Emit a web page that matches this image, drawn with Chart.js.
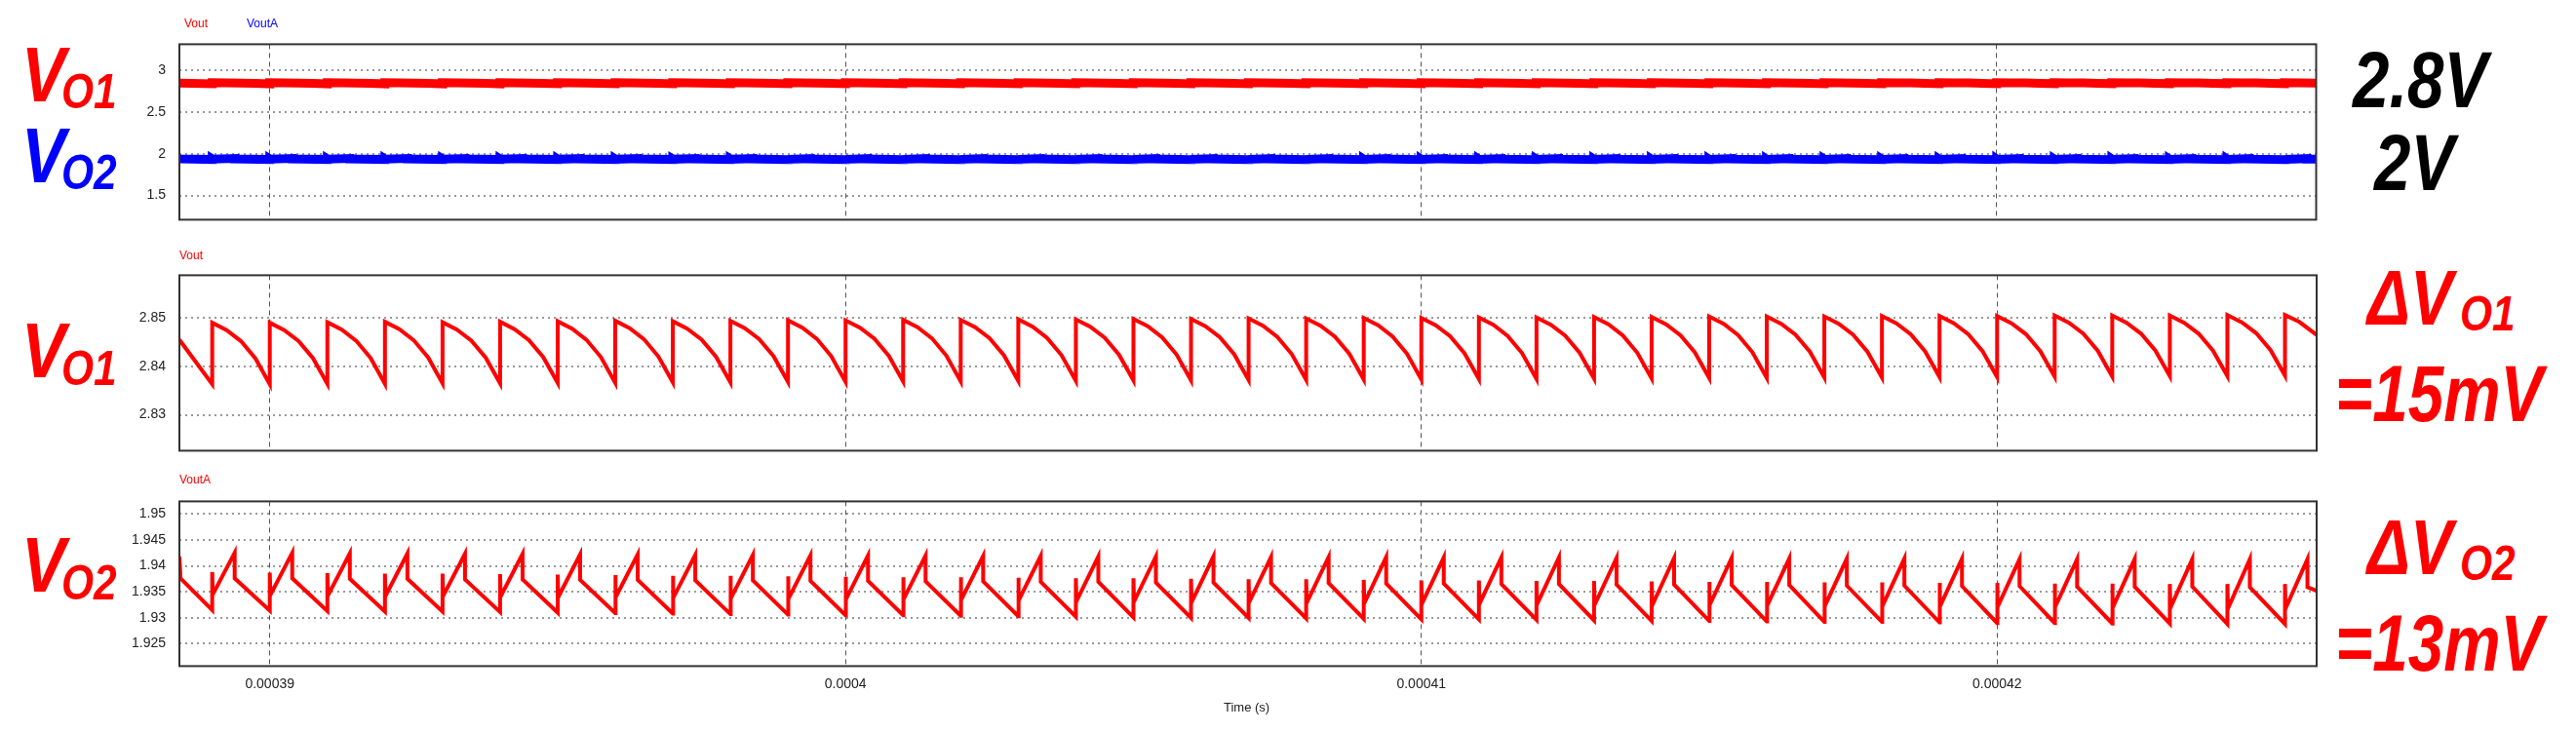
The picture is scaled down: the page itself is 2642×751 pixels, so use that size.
<!DOCTYPE html>
<html><head><meta charset="utf-8">
<script src="https://cdn.jsdelivr.net/npm/chart.js@4.4.1/dist/chart.umd.min.js"></script>
<style>
html,body{margin:0;padding:0;background:#fff;width:2642px;height:751px;overflow:hidden;position:relative;font-family:"Liberation Sans",Arial,sans-serif}
.cv{position:absolute}
.t{position:absolute;white-space:nowrap;font-weight:bold;font-style:italic;transform-origin:left center}
.s{position:absolute;white-space:nowrap;font-size:12px}
</style></head><body>
<div class="cv" id="w1" style="left:80px;top:44px;width:2300px;height:182px"><canvas id="c1"></canvas></div>
<div class="cv" id="w2" style="left:80px;top:282px;width:2300px;height:181px"><canvas id="c2"></canvas></div>
<div class="cv" id="w3" style="left:80px;top:514px;width:2300px;height:200px"><canvas id="c3"></canvas></div>
<script>
// ---- data (time in microseconds) ----
const jumpTimesUs = [389,390,391,392,393,394,395,396,397,398,399,400,401,402,403,404,405,406,407,408,409,410,411,412,413,414,415,416,417,418,419,420,421,422,423,424,425];
const timeStartUs = 388.43, timeEndUs = 425.55;
const xTickValuesUs = [390,400,410,420];
const xTickLabels = ["0.00039","0.0004","0.00041","0.00042"];

const vo1Peak = [2.8490,2.8490,2.8491,2.8492,2.8491,2.8492,2.8493,2.8494,2.8493,2.8494,2.8495,2.8495,2.8496,2.8496,2.8497,2.8497,2.8498,2.8498,2.8499,2.8499,2.8500,2.8500,2.8501,2.8501,2.8502,2.8502,2.8503,2.8503,2.8503,2.8504,2.8504,2.8504,2.8505,2.8505,2.8505,2.8506,2.8506];
const vo1Trough = [2.8363,2.8363,2.8364,2.8364,2.8365,2.8365,2.8366,2.8366,2.8367,2.8367,2.8368,2.8368,2.8369,2.8369,2.8370,2.8370,2.8371,2.8371,2.8372,2.8372,2.8373,2.8373,2.8374,2.8374,2.8375,2.8375,2.8376,2.8376,2.8377,2.8377,2.8378,2.8378,2.8379,2.8379,2.8380,2.8380,2.8381];
const vo1StartValue = 2.8455, vo1EndValue = 2.8465;
const vo1DecayFrac = [0.25,0.5,0.75];
const vo1DecayDrop = [0.12,0.3,0.58];

const vo2Trough = [1.9315,1.9314,1.9313,1.9312,1.9312,1.9311,1.9310,1.9309,1.9308,1.9307,1.9306,1.9305,1.9305,1.9304,1.9303,1.9302,1.9301,1.9300,1.9300,1.9299,1.9298,1.9297,1.9297,1.9296,1.9295,1.9294,1.9294,1.9293,1.9292,1.9292,1.9291,1.9290,1.9290,1.9289,1.9289,1.9288,1.9288];
const vo2SpikeTop = [1.9388,1.9387,1.9386,1.9385,1.9385,1.9384,1.9383,1.9382,1.9381,1.9381,1.9380,1.9379,1.9378,1.9378,1.9377,1.9376,1.9376,1.9375,1.9374,1.9374,1.9373,1.9372,1.9372,1.9371,1.9371,1.9370,1.9369,1.9369,1.9368,1.9368,1.9367,1.9367,1.9366,1.9366,1.9365,1.9365,1.9365];
const vo2Base = [1.9345,1.9344,1.9343,1.9342,1.9342,1.9341,1.9340,1.9339,1.9338,1.9337,1.9336,1.9335,1.9335,1.9334,1.9333,1.9332,1.9331,1.9330,1.9330,1.9329,1.9328,1.9327,1.9327,1.9326,1.9325,1.9324,1.9324,1.9323,1.9322,1.9322,1.9321,1.9320,1.9320,1.9319,1.9319,1.9318,1.9318];
const vo2Peak = [1.9425,1.9425,1.9424,1.9424,1.9423,1.9423,1.9422,1.9422,1.9421,1.9421,1.9420,1.9420,1.9420,1.9419,1.9419,1.9418,1.9418,1.9418,1.9417,1.9417,1.9417,1.9416,1.9416,1.9416,1.9415,1.9415,1.9415,1.9414,1.9414,1.9414,1.9414,1.9413,1.9413,1.9413,1.9413,1.9413,1.9413];
const vo2Drop = [1.9376,1.9376,1.9375,1.9375,1.9374,1.9374,1.9373,1.9373,1.9372,1.9372,1.9371,1.9371,1.9370,1.9370,1.9369,1.9369,1.9368,1.9368,1.9367,1.9367,1.9366,1.9366,1.9365,1.9365,1.9364,1.9364,1.9363,1.9363,1.9362,1.9362,1.9361,1.9361,1.9360,1.9360,1.9360,1.9359,1.9359];
const vo2StartPeak = 1.9418, vo2StartDrop = 1.9376, vo2EndValue = 1.9352;
const vo2RiseUs = 0.39;

const topTicks = [1.5,2,2.5,3];
const midTicks = [2.83,2.84,2.85];
const botTicks = [1.925,1.93,1.935,1.94,1.945,1.95];

// ---- build waveforms ----
function buildVo1(){
  const p=[{x:timeStartUs,y:vo1StartValue}];
  for(let i=0;i<jumpTimesUs.length;i++){
    const t0=jumpTimesUs[i];
    p.push({x:t0,y:vo1Trough[i]});
    p.push({x:t0,y:vo1Peak[i]});
    if(i<jumpTimesUs.length-1){
      const next=vo1Trough[i+1];
      vo1DecayFrac.forEach((f,k)=>p.push({x:t0+f,y:vo1Peak[i]-(vo1Peak[i]-next)*vo1DecayDrop[k]}));
    } else {
      p.push({x:t0+0.25,y:vo1Peak[i]-(vo1Peak[i]-vo1EndValue)*0.35});
      p.push({x:timeEndUs,y:vo1EndValue});
    }
  }
  return p;
}
function buildVo2(){
  const p=[{x:timeStartUs,y:vo2StartPeak},{x:timeStartUs+0.02,y:vo2StartDrop}];
  for(let i=0;i<jumpTimesUs.length;i++){
    const t0=jumpTimesUs[i];
    p.push({x:t0,y:vo2Trough[i]});
    p.push({x:t0,y:vo2SpikeTop[i]});
    p.push({x:t0+0.01,y:vo2Base[i]});
    p.push({x:t0+vo2RiseUs,y:vo2Peak[i]});
    p.push({x:t0+vo2RiseUs,y:vo2Drop[i]});
    if(i===jumpTimesUs.length-1) p.push({x:timeEndUs,y:vo2EndValue});
  }
  return p;
}
const d1=buildVo1(), d2=buildVo2();

const frame={id:'frame',afterDraw(c){const a=c.chartArea,x=c.ctx;x.save();x.strokeStyle='#333';x.lineWidth=2;x.strokeRect(a.left,a.top,a.right-a.left,a.bottom-a.top);x.restore();}};

function mk(id,wid,datasets,yMin,yMax,yTicks,showX,areaTop,areaBottom){
  const ch=new Chart(document.getElementById(id),{
    type:'line',
    data:{datasets},
    options:{
      responsive:true,maintainAspectRatio:false,animation:false,
      layout:{padding:{left:0,right:4,top:0,bottom:0}},
      plugins:{legend:{display:false},tooltip:{enabled:false}},
      elements:{point:{radius:0},line:{tension:0}},
      scales:{
        x:{type:'linear',min:timeStartUs,max:timeEndUs,
          afterBuildTicks:s=>{s.ticks=xTickValuesUs.map(v=>({value:v}));},
          afterFit:s=>{s.height=showX?36:0;},
          grid:{color:'#555',lineWidth:1,drawTicks:false},
          border:{display:false,dash:[5,4]},
          ticks:{display:showX,padding:10,color:'#222',font:{family:'Liberation Sans',size:14},
            callback:(v)=>{const i=xTickValuesUs.indexOf(v);return i>=0?xTickLabels[i]:'';}}
        },
        y:{min:yMin,max:yMax,
          afterBuildTicks:s=>{s.ticks=yTicks.map(v=>({value:v}));},
          afterFit:s=>{s.width=104;},
          grid:{color:'#999',lineWidth:2,drawTicks:false},
          border:{display:false,dash:[2,4]},
          ticks:{padding:14,color:'#222',font:{family:'Liberation Sans',size:14},callback:v=>String(v)}
        }
      }
    },
    plugins:[frame]
  });
  // align plot area to the target box
  const w=document.getElementById(wid);
  const a=ch.chartArea, dt=a.top, db=ch.height-a.bottom;
  w.style.top=(areaTop-dt)+'px';
  w.style.height=(areaBottom-areaTop+dt+db)+'px';
  ch.resize();
  return ch;
}
mk('c1','w1',[
  {data:d1,borderColor:'#ff0000',borderWidth:9,parsing:false},
  {data:d2,borderColor:'#0000ff',borderWidth:9,parsing:false}
],1.21,3.31,topTicks,false,45,225);
mk('c2','w2',[{data:d1,borderColor:'#ff0000',borderWidth:4,parsing:false}],2.8226,2.8588,midTicks,false,282,462);
mk('c3','w3',[{data:d2,borderColor:'#ff0000',borderWidth:4,parsing:false}],1.9207,1.9524,botTicks,true,514,683);

// ---- text labels ----
function place(txt,x,baseline,size,color,sx,cls){
  const d=document.createElement('div');d.className=cls||'t';d.textContent=txt;
  d.style.left=x+'px';d.style.top=(baseline-0.8465*size)+'px';d.style.fontSize=size+'px';d.style.lineHeight=size+'px';d.style.color=color;
  if(sx)d.style.transform='scaleX('+sx+')';
  document.body.appendChild(d);
}
const RED='#ff0000',BLUE='#0000ff';
place('V',22,105,80,RED,0.85);place('O1',63,111,50,RED,0.85);
place('V',22,188,80,BLUE,0.85);place('O2',63,194,50,BLUE,0.85);
place('V',22,388,80,RED,0.85);place('O1',63,395,50,RED,0.85);
place('V',22,608,80,RED,0.85);place('O2',63,615,50,RED,0.85);
place('2.8V',2413,110,82,'#000',0.82);
place('2V',2435,195,82,'#000',0.82);
place('ΔV',2428,334,80,RED,0.82);place('O1',2523,339,50,RED,0.85);
place('=15mV',2395,432,82,RED,0.8);
place('ΔV',2428,590,80,RED,0.82);place('O2',2523,595,50,RED,0.85);
place('=13mV',2395,688,82,RED,0.8);
function small(txt,x,cy,color,size){const d=document.createElement('div');d.className='s';d.textContent=txt;d.style.left=x+'px';d.style.top=(cy-8)+'px';d.style.color=color;if(size)d.style.fontSize=size+'px';document.body.appendChild(d);}
small('Vout',189,25,RED);small('VoutA',253,25,BLUE);
small('Vout',184,263,RED);small('VoutA',184,493,RED);
small('Time (s)',1255,726,'#222',13);
</script>
</body></html>
